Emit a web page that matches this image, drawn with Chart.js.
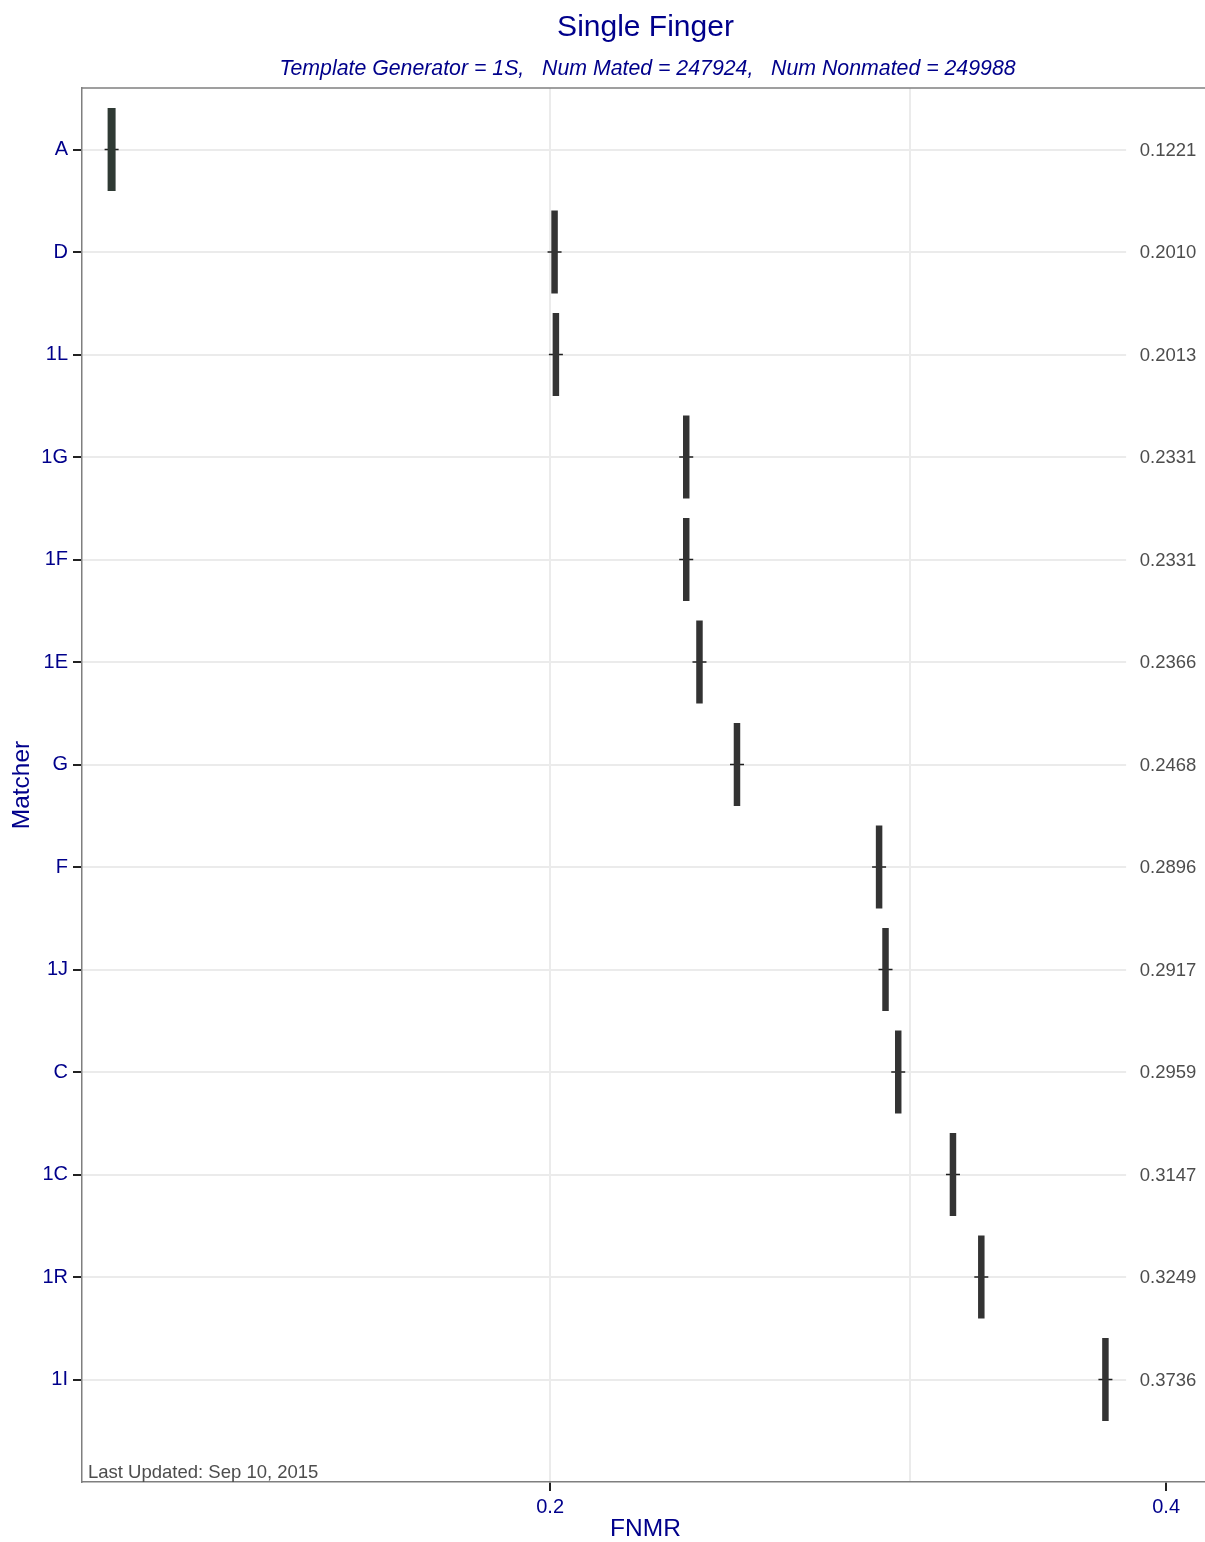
<!DOCTYPE html>
<html>
<head>
<meta charset="utf-8">
<title>Single Finger</title>
<script src="https://cdn.jsdelivr.net/npm/chart.js@4.4.1/dist/chart.umd.min.js"></script>
<style>
    html, body { margin: 0; padding: 0; background: #fff; overflow: hidden; }
    #wrap { width: 1205px; height: 1542px; position: relative; }
    #wrap canvas { display: block; }
</style>
</head>
<body>
<div id="wrap"><canvas id="fnmrChart"></canvas></div>
<script>
// Data
const matchers = ['A', 'D', '1L', '1G', '1F', '1E', 'G', 'F', '1J', 'C', '1C', '1R', '1I'];
const fnmr = [0.1221, 0.2010, 0.2013, 0.2331, 0.2331, 0.2366, 0.2468, 0.2896, 0.2917, 0.2959, 0.3147, 0.3249, 0.3736];
const xTicks = [0.2, 0.3, 0.4];
const xTickLabels = ['0.2', '', '0.4'];

const navy = '#00008B';
const gridColor = '#ebebeb';
const frameColor = '#7f7f7f';
const fontFamily = '"Liberation Sans", Arial, sans-serif';

// Text, frame and label column drawn around the panel
const decorations = {
    id: 'decorations',
    beforeDatasetsDraw(chart) {
        const { ctx, chartArea, scales } = chart;
        // label column on the right hides the grid there
        const cut = scales.x.getPixelForValue(0.3824);
        ctx.save();
        ctx.fillStyle = '#fff';
        ctx.fillRect(cut, chartArea.top + 1, chartArea.right - cut, chartArea.bottom - chartArea.top - 2);
        ctx.restore();
    },
    afterDraw(chart) {
        const { ctx, chartArea, scales } = chart;
        const midX = (chartArea.left + chartArea.right) / 2;
        ctx.save();

        // top frame line
        ctx.strokeStyle = frameColor;
        ctx.lineWidth = 1.5;
        ctx.beginPath();
        ctx.moveTo(chartArea.left, chartArea.top);
        ctx.lineTo(chartArea.right, chartArea.top);
        ctx.stroke();

        ctx.fillStyle = navy;
        ctx.textAlign = 'center';
        ctx.textBaseline = 'middle';
        ctx.font = '30px ' + fontFamily;
        ctx.fillText('Single Finger', midX + 2, 28);
        ctx.font = 'italic 21.3px ' + fontFamily;
        ctx.fillText('Template Generator = 1S,   Num Mated = 247924,   Num Nonmated = 249988', midX + 4, 69);

        ctx.font = '24.5px ' + fontFamily;
        ctx.fillText('FNMR', midX + 2, 1529);
        ctx.save();
        ctx.translate(22, (chartArea.top + chartArea.bottom) / 2);
        ctx.rotate(-Math.PI / 2);
        ctx.fillText('Matcher', 0, 0);
        ctx.restore();

        // value labels centred on x = 0.4
        ctx.fillStyle = '#4d4d4d';
        ctx.font = '18.5px ' + fontFamily;
        const lx = scales.x.getPixelForValue(0.4);
        fnmr.forEach((v, i) => {
            ctx.fillText(v.toFixed(4), lx + 2, scales.y.getPixelForValue(i) + 1);
        });

        ctx.textAlign = 'left';
        ctx.textBaseline = 'alphabetic';
        ctx.fillText('Last Updated: Sep 10, 2015', chartArea.left + 6, chartArea.bottom - 4);
        ctx.restore();
    }
};

const points = fnmr.map((v, i) => ({ x: v, y: i }));

new Chart(document.getElementById('fnmrChart'), {
    type: 'scatter',
    data: {
        datasets: [{
            // confidence bars
            data: points,
            pointStyle: 'line',
            rotation: 90,
            radius: 41.5,
            hoverRadius: 41.5,
            borderWidth: points.map((p, i) => i === 0 ? 8 : 6.5),
            hoverBorderWidth: points.map((p, i) => i === 0 ? 8 : 6.5),
            borderColor: points.map((p, i) => i === 0 ? '#2f3a34' : '#333333')
        }, {
            // centre mark
            data: points,
            pointStyle: 'line',
            rotation: 0,
            radius: 7,
            hoverRadius: 7,
            borderWidth: 1.5,
            borderColor: '#1f1f1f'
        }]
    },
    options: {
        responsive: true,
        maintainAspectRatio: false,
        animation: false,
        devicePixelRatio: 1,
        layout: {
            autoPadding: false, // big bar markers would otherwise shrink the panel
            padding: { top: 88, left: 0, right: 0, bottom: 0 }
        },
        plugins: {
            legend: { display: false },
            tooltip: { enabled: false }
        },
        scales: {
            x: {
                type: 'logarithmic',
                min: 0.1181,
                max: 0.4179,
                afterBuildTicks: (scale) => {
                    scale.ticks = xTicks.map(v => ({ value: v }));
                },
                afterFit: (scale) => {
                    scale.height = 60;
                    scale.paddingLeft = 0;
                    scale.paddingRight = 0;
                },
                ticks: {
                    autoSkip: false,
                    maxRotation: 0,
                    color: navy,
                    padding: 4,
                    font: { family: fontFamily, size: 20 },
                    callback: (value, index) => xTickLabels[index]
                },
                grid: {
                    color: (c) => c.tick && c.tick.value === 0.4 ? 'rgba(0,0,0,0)' : gridColor,
                    lineWidth: 2,
                    tickLength: 9,
                    tickColor: (c) => c.tick && c.tick.value === 0.3 ? 'rgba(0,0,0,0)' : '#222',
                    tickWidth: 2
                },
                border: { color: frameColor, width: 1.5 }
            },
            y: {
                type: 'linear',
                reverse: true,
                min: -0.6,
                max: 13.0,
                afterBuildTicks: (scale) => {
                    scale.ticks = matchers.map((m, i) => ({ value: i }));
                },
                afterFit: (scale) => { scale.width = 82; },
                ticks: {
                    autoSkip: false,
                    color: navy,
                    padding: 5,
                    font: { family: fontFamily, size: 20 },
                    callback: (value) => matchers[value]
                },
                grid: {
                    color: gridColor,
                    lineWidth: 2,
                    tickLength: 9,
                    tickColor: '#222',
                    tickWidth: 2
                },
                border: { color: frameColor, width: 1.5 }
            }
        }
    },
    plugins: [decorations]
});
</script>
</body>
</html>
